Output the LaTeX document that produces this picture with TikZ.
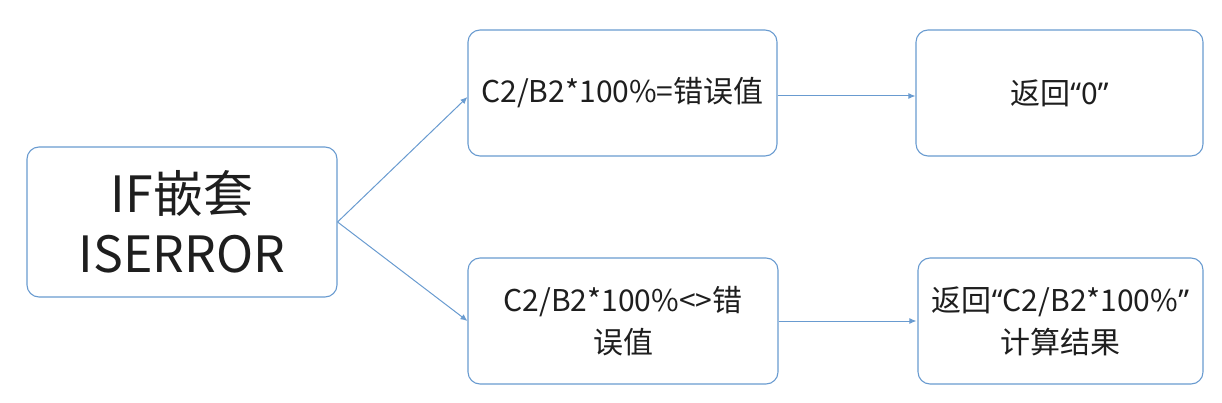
\documentclass[tikz,border=0pt]{standalone}
\usepackage{fontspec}
\setmainfont{Noto Sans CJK SC}
\newfontfamily\quotefont{Noto Sans}
\usetikzlibrary{arrows.meta,positioning}
\definecolor{boxblue}{RGB}{105,155,208}
\definecolor{txtgray}{RGB}{30,30,30}
\newcommand{\openq}{{\quotefont “}}
\newcommand{\closeq}{{\quotefont ”}}

\begin{document}
\begin{tikzpicture}[x=1pt, y=-1pt,
    box/.style={draw=boxblue, line width=1.1pt, rounded corners=12pt, align=center,
        text=txtgray, inner sep=0pt, minimum height=126pt},
    smalltext/.style={font=\fontsize{30}{42}\selectfont},
    bigtext/.style={font=\fontsize{50}{60}\selectfont},
    arrow/.style={draw=boxblue, line width=1pt, -{Latex[length=7pt,width=6pt]}}
]
    \useasboundingbox (0,0) rectangle (1222,403);

    % Boxes
    \node[box, bigtext, minimum width=310pt, minimum height=150pt] (ifnode) at (182,222) {IF嵌套\\ISERROR};
    \node[box, smalltext, minimum width=309pt] (errbox) at (622.5,93) {C2/B2*100\%=错误值};
    \node[box, smalltext, minimum width=287pt] (zerobox) at (1059.5,93) {返回\openq 0\closeq};
    \node[box, smalltext, minimum width=310pt] (okbox) at (623,321) {C2/B2*100\%<>错\\误值};
    \node[box, smalltext, minimum width=285pt] (resbox) at (1060.5,321) {返回\openq C2/B2*100\%\closeq\\计算结果};

    % Connectors
    \draw[arrow] (ifnode.east) -- ([yshift=-4pt]errbox.west);
    \draw[arrow] (ifnode.east) -- (okbox.west);
    \draw[arrow] ([yshift=-3pt]errbox.east) -- ([yshift=-3pt]zerobox.west);
    \draw[arrow] (okbox.east) -- ([xshift=-1pt]resbox.west);
\end{tikzpicture}
\end{document}
